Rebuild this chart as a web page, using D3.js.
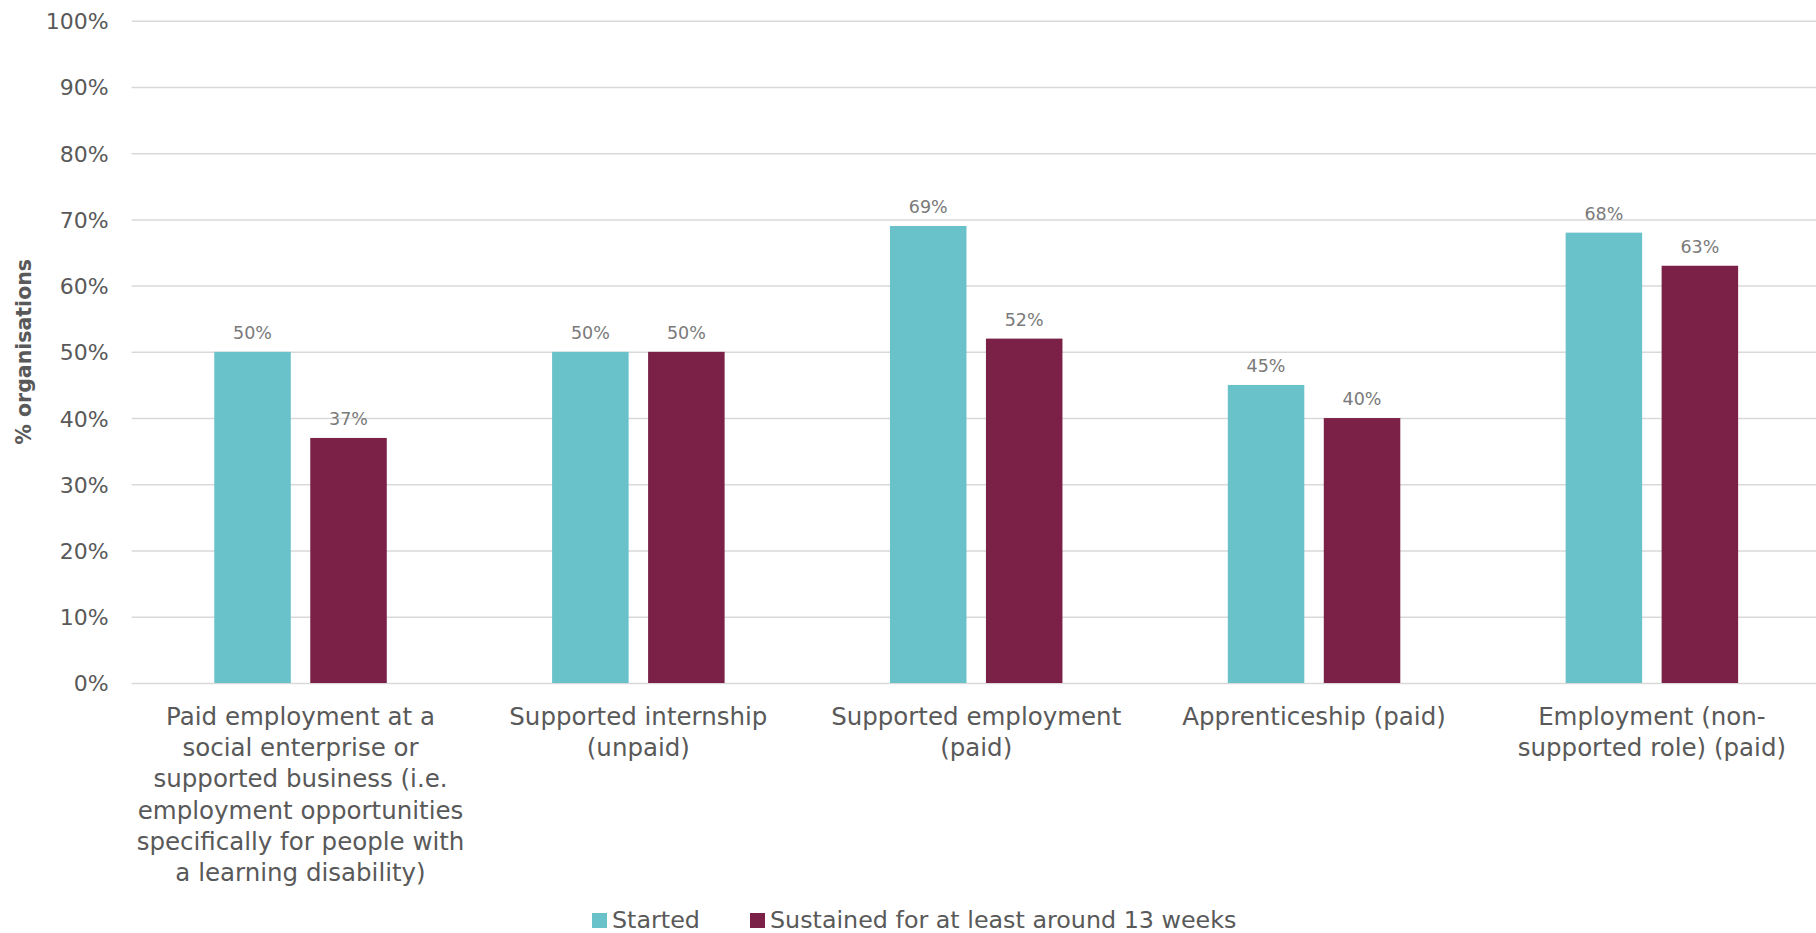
<!DOCTYPE html>
<html>
<head>
<meta charset="utf-8">
<script src="https://cdn.jsdelivr.net/npm/d3@7"></script>
<style>
  html, body { margin: 0; padding: 0; background: #fff; }
  svg { display: block; font-family: "DejaVu Sans", sans-serif; }
</style>
</head>
<body>
<svg id="chart" width="1816" height="933"></svg>
<script>
// Employment outcomes by type: share of organisations
const categories = [
  "Paid employment at a social enterprise or supported business (i.e. employment opportunities specifically for people with a learning disability)",
  "Supported internship (unpaid)",
  "Supported employment (paid)",
  "Apprenticeship (paid)",
  "Employment (non-supported role) (paid)"
];
// Category labels as they wrap under the axis
const categoryLines = [
  ["Paid employment at a", "social enterprise or", "supported business (i.e.", "employment opportunities", "specifically for people with", "a learning disability)"],
  ["Supported internship", "(unpaid)"],
  ["Supported employment", "(paid)"],
  ["Apprenticeship (paid)"],
  ["Employment (non-", "supported role) (paid)"]
];
const seriesNames = ["Started", "Sustained for at least around 13 weeks"];
const started = [0.50, 0.50, 0.69, 0.45, 0.68];
const sustained = [0.37, 0.50, 0.52, 0.40, 0.63];
const yTicks = [0, 0.1, 0.2, 0.3, 0.4, 0.5, 0.6, 0.7, 0.8, 0.9, 1.0];
const colors = ["#69C1C9", "#7B2046"];

const svg = d3.select("#chart");
const plotLeft = 131.6, plotRight = 1820.8, plotTop = 20.7, plotBottom = 683;

const x0 = d3.scaleBand()
  .domain(categories)
  .range([plotLeft, plotRight])
  .paddingInner(0.4894)
  .paddingOuter(0.2447);

const x1 = d3.scaleBand()
  .domain(seriesNames)
  .range([0, x0.bandwidth()])
  .paddingInner(0.203);

const y = d3.scaleLinear().domain([0, 1]).range([plotBottom, plotTop]);
const pct = d3.format(".0%");

// Horizontal gridlines and percentage ticks
const yAxis = d3.axisLeft(y).tickValues(yTicks).tickSize(-(1816 - plotLeft)).tickFormat(pct).tickPadding(23);
const gy = svg.append("g").attr("transform", `translate(${plotLeft},0)`).call(yAxis);
gy.select(".domain").remove();
gy.selectAll(".tick line").attr("stroke", "#d9d9d9").attr("stroke-width", 1.5);
gy.selectAll(".tick text")
  .attr("fill", "#595959")
  .attr("font-size", 22)
  .attr("dy", "0.36em")
  .attr("font-family", "DejaVu Sans, sans-serif");

// Bars
const rows = categories.map((c, i) => ({ cat: c, vals: [started[i], sustained[i]] }));
const groups = svg.append("g").selectAll("g")
  .data(rows)
  .join("g")
  .attr("transform", d => `translate(${x0(d.cat)},0)`);

groups.selectAll("rect")
  .data(d => d.vals.map((v, k) => ({ key: seriesNames[k], v, k })))
  .join("rect")
  .attr("x", d => x1(d.key))
  .attr("y", d => y(d.v))
  .attr("width", x1.bandwidth())
  .attr("height", d => y(0) - y(d.v))
  .attr("fill", d => colors[d.k]);

// Value labels
groups.selectAll("text.val")
  .data(d => d.vals.map((v, k) => ({ key: seriesNames[k], v, k })))
  .join("text")
  .attr("class", "val")
  .attr("x", d => x1(d.key) + x1.bandwidth() / 2)
  .attr("y", d => y(d.v) - 13)
  .attr("text-anchor", "middle")
  .attr("font-size", 17.5)
  .attr("fill", "#7a7a7a")
  .text(d => pct(d.v));

// Category labels
const catG = svg.append("g");
categories.forEach((c, i) => {
  const cx = x0(c) + x0.bandwidth() / 2;
  const t = catG.append("text")
    .attr("x", cx)
    .attr("y", 725)
    .attr("text-anchor", "middle")
    .attr("font-size", 24.5)
    .attr("fill", "#595959");
  categoryLines[i].forEach((line, j) => {
    t.append("tspan")
      .attr("x", cx)
      .attr("y", 725 + j * 31.2)
      .text(line);
  });
});

// Y axis title
svg.append("text")
  .attr("transform", `translate(31,${(plotTop + plotBottom) / 2}) rotate(-90)`)
  .attr("text-anchor", "middle")
  .attr("font-size", 20.5)
  .attr("font-weight", "bold")
  .attr("fill", "#595959")
  .text("% organisations");

// Legend
const legendX = [592, 750];
const lg = svg.append("g");
seriesNames.forEach((s, k) => {
  lg.append("rect")
    .attr("x", legendX[k]).attr("y", 913)
    .attr("width", 15).attr("height", 15)
    .attr("fill", colors[k]);
  lg.append("text")
    .attr("x", legendX[k] + 20)
    .attr("y", 928)
    .attr("font-size", 23.8)
    .attr("fill", "#595959")
    .text(s);
});
</script>
</body>
</html>
